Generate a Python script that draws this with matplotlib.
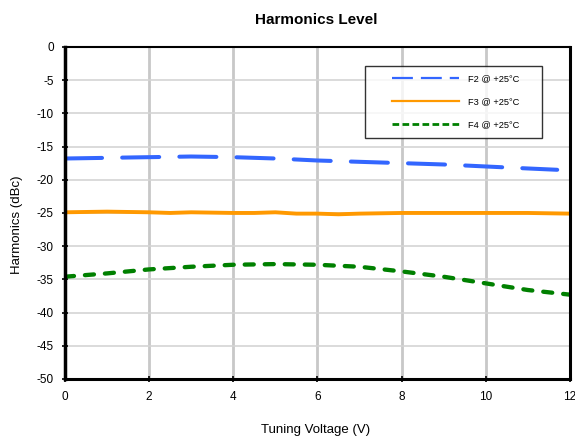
import matplotlib
matplotlib.use("Agg")
import matplotlib.pyplot as plt
from matplotlib.legend_handler import HandlerLine2D

plt.rcParams['font.family'] = ['Liberation Sans', 'DejaVu Sans']

x_f2 = [0, 1, 2, 3, 4, 5, 6, 7, 8, 9, 10, 11, 11.7]
f2 = [-16.8, -16.7, -16.6, -16.5, -16.6, -16.8, -17.1, -17.3, -17.5, -17.7, -18.0, -18.3, -18.5]

x_f3 = [0, 1, 2, 2.5, 3, 4, 4.5, 5, 5.5, 6, 6.5, 7, 8, 9, 10, 11, 12]
f3 = [-24.9, -24.8, -24.9, -25.0, -24.9, -25.0, -25.0, -24.9, -25.1, -25.1, -25.2, -25.1, -25.0, -25.0, -25.0, -25.0, -25.1]

x_f4 = [0, 1, 2, 3, 4, 5, 6, 7, 8, 9, 10, 11, 12]
f4 = [-34.6, -34.1, -33.5, -33.1, -32.8, -32.7, -32.8, -33.1, -33.8, -34.6, -35.6, -36.6, -37.3]

labels = ['F2 @ +25°C', 'F3 @ +25°C', 'F4 @ +25°C']
xticks = [0, 2, 4, 6, 8, 10, 12]
yticks = [0, -5, -10, -15, -20, -25, -30, -35, -40, -45, -50]


class OffsetHandler(HandlerLine2D):
    def __init__(self, lw, dashes=None, **kw):
        super().__init__(**kw)
        self._lw = lw
        self._d = dashes

    def get_xdata(self, legend, xdescent, ydescent, width, height, fontsize):
        off = 2.0 * fontsize
        return [-xdescent + off, -xdescent + width], [-xdescent + off + 0.5 * (width - off)]

    def create_artists(self, legend, orig_handle, xdescent, ydescent, width, height, fontsize, trans):
        arts = super().create_artists(legend, orig_handle, xdescent, ydescent, width, height,
                                      fontsize, trans)
        line = arts[0]
        line.set_linewidth(self._lw)
        if self._d is not None:
            line.set_dashes(self._d)
            line.set_dash_capstyle('butt')
        return arts


fig = plt.figure(figsize=(5.75, 4.41), dpi=100)
ax = fig.add_axes([0.113, 0.1406, 0.878, 0.753])

l2, = ax.plot(x_f2, f2, color='#3366ff', lw=2.9, dashes=(9.2, 5.0), label=labels[0],
              dash_capstyle='round')
l3, = ax.plot(x_f3, f3, color='#ff9900', lw=2.8, label=labels[1])
l4, = ax.plot(x_f4, f4, color='#008000', lw=3.1, dashes=(2.1, 2.55), label=labels[2],
              dash_capstyle='round')

ax.set_xlim(0, 12)
ax.set_ylim(-50, 0)
ax.set_xticks(xticks)
ax.set_yticks(yticks)
ax.set_xticklabels([str(v) for v in xticks], fontsize=8.5)
ax.set_yticklabels([str(v) for v in yticks], fontsize=8.5)
ax.tick_params(axis='both', direction='inout', length=4, width=1.2, colors='black')
ax.tick_params(axis='y', pad=6)
ax.tick_params(axis='x', pad=7)

ax.xaxis.grid(True, color='#c8c8c8', lw=2)
ax.yaxis.grid(True, color='#d4d4d4', lw=1.2)
ax.set_axisbelow(True)

ax.spines['left'].set_linewidth(2.5)
ax.spines['bottom'].set_linewidth(2.2)
ax.spines['top'].set_linewidth(1.5)
ax.spines['right'].set_linewidth(2.2)

ax.set_xlabel('Tuning Voltage (V)', fontsize=9.5)
ax.set_ylabel('Harmonics (dBc)', fontsize=9.5)
ax.xaxis.set_label_coords(0.497, -0.136)
ax.yaxis.set_label_coords(-0.083, 0.464)
fig.text(0.55, 0.955, 'Harmonics Level', ha='center', va='center', fontsize=11, fontweight='bold')

hm = {
    l2: OffsetHandler(1.6, (9.4, 3.6)),
    l3: OffsetHandler(1.6),
    l4: OffsetHandler(2.0, (2.4, 1.2)),
}
leg = ax.legend(handles=[l2, l3, l4], loc='upper left', bbox_to_anchor=(0.594, 0.743, 0.3505, 0.2),
                mode='expand', fontsize=6.7, frameon=True, fancybox=False, edgecolor='black',
                handlelength=9.2, handletextpad=0.95, labelspacing=1.5, borderpad=0.9,
                borderaxespad=0, handler_map=hm)
leg.get_frame().set_linewidth(1.0)

fig.savefig('out.png', dpi=100)
